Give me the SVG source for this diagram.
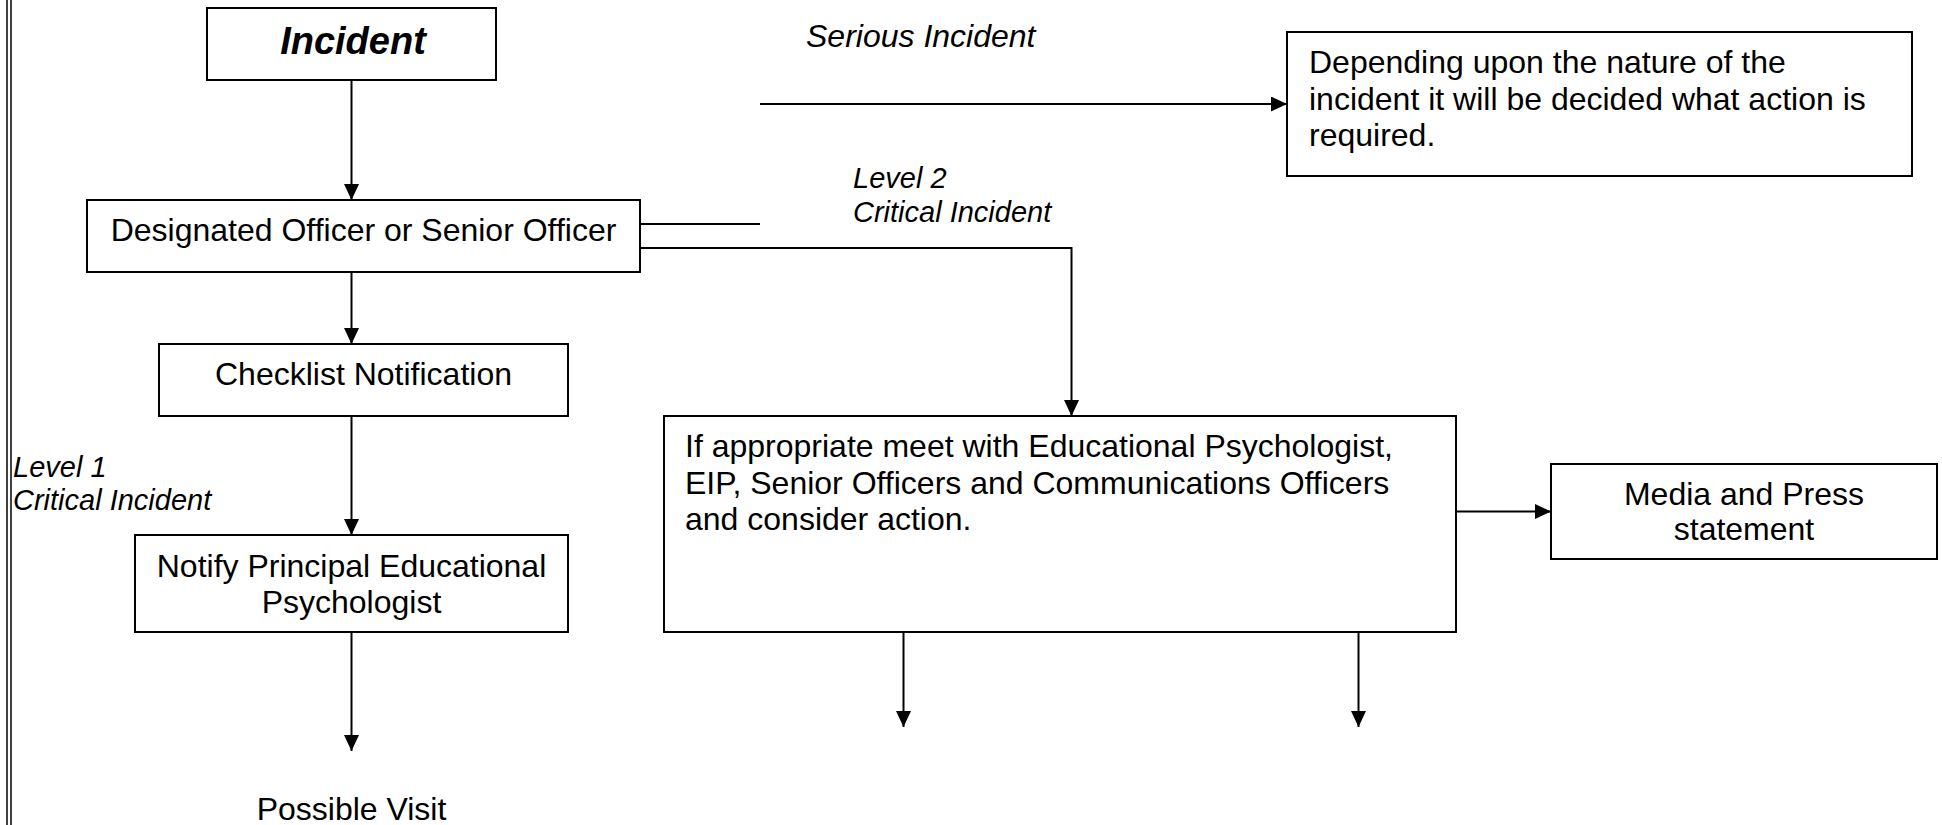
<svg xmlns="http://www.w3.org/2000/svg" width="1942" height="825" viewBox="0 0 1942 825">
<style>
  .box { fill: #fff; stroke: #000; stroke-width: 2; }
  .t { font-family: "Liberation Sans", Arial, sans-serif; font-size: 32px; fill: #000; }
  .c { text-anchor: middle; }
  .big { font-size: 38px; font-weight: bold; font-style: italic; }
  .lbl { font-family: "Liberation Sans", Arial, sans-serif; font-size: 29px; font-style: italic; fill: #000; }
  .con { fill: none; stroke: #000; stroke-width: 2; }
</style>
<defs>
  <marker id="ah" viewBox="0 0 16 15" markerWidth="16" markerHeight="15" refX="16" refY="7.5" orient="auto" markerUnits="userSpaceOnUse">
    <path d="M0,0 L16,7.5 L0,15 z" fill="#000"/>
  </marker>
</defs>
<rect width="1942" height="825" fill="#fff"/>
<g id="border">
  <line x1="7" y1="0" x2="7" y2="825" stroke="#000" stroke-width="1.5"/>
  <line x1="11" y1="0" x2="11" y2="825" stroke="#000" stroke-width="1.5"/>
</g>
<g id="connectors">
  <line class="con" x1="351.5" y1="80" x2="351.5" y2="200" marker-end="url(#ah)"/>
  <line class="con" x1="351.5" y1="272" x2="351.5" y2="344" marker-end="url(#ah)"/>
  <line class="con" x1="351.5" y1="416" x2="351.5" y2="535" marker-end="url(#ah)"/>
  <line class="con" x1="351.5" y1="632" x2="351.5" y2="751" marker-end="url(#ah)"/>
  <line class="con" x1="760" y1="104" x2="1287" y2="104" stroke-width="3" marker-end="url(#ah)"/>
  <line class="con" x1="640" y1="224" x2="760" y2="224"/>
  <polyline class="con" points="640,248 1071.5,248 1071.5,416" marker-end="url(#ah)"/>
  <line class="con" x1="1456" y1="511.5" x2="1551" y2="511.5" stroke-width="2.5" marker-end="url(#ah)"/>
  <line class="con" x1="903.5" y1="632" x2="903.5" y2="727" marker-end="url(#ah)"/>
  <line class="con" x1="1358.5" y1="632" x2="1358.5" y2="727" marker-end="url(#ah)"/>
</g>
<g id="incident">
  <rect class="box" x="207" y="8" width="289" height="72"/>
  <text class="t c big" x="353" y="54">Incident</text>
</g>
<g id="designated">
  <rect class="box" x="87" y="200" width="553" height="72"/>
  <text class="t c" x="363.5" y="241">Designated Officer or Senior Officer</text>
</g>
<g id="checklist">
  <rect class="box" x="159" y="344" width="409" height="72"/>
  <text class="t c" x="363.5" y="385">Checklist Notification</text>
</g>
<g id="notify">
  <rect class="box" x="135" y="535" width="433" height="97"/>
  <text class="t c" x="351.5" y="577">Notify Principal Educational</text>
  <text class="t c" x="351.5" y="613">Psychologist</text>
</g>
<g id="possible-visit">
  <text class="t c" x="351.5" y="820">Possible Visit</text>
</g>
<g id="level1-label">
  <text class="lbl" x="13" y="477">Level 1</text>
  <text class="lbl" x="13" y="510">Critical Incident</text>
</g>
<g id="serious-label">
  <text class="t" x="806" y="47" font-style="italic">Serious Incident</text>
</g>
<g id="level2-label">
  <text class="lbl" x="853" y="188">Level 2</text>
  <text class="lbl" x="853" y="222">Critical Incident</text>
</g>
<g id="depending">
  <rect class="box" x="1287" y="32" width="625" height="144"/>
  <text class="t" x="1309" y="73">Depending upon the nature of the</text>
  <text class="t" x="1309" y="109.5">incident it will be decided what action is</text>
  <text class="t" x="1309" y="146">required.</text>
</g>
<g id="meet">
  <rect class="box" x="664" y="416" width="792" height="216"/>
  <text class="t" x="685" y="457">If appropriate meet with Educational Psychologist,</text>
  <text class="t" x="685" y="493.5">EIP, Senior Officers and Communications Officers</text>
  <text class="t" x="685" y="530">and consider action.</text>
</g>
<g id="media">
  <rect class="box" x="1551" y="464" width="386" height="95"/>
  <text class="t c" x="1744" y="505">Media and Press</text>
  <text class="t c" x="1744" y="540">statement</text>
</g>
</svg>
